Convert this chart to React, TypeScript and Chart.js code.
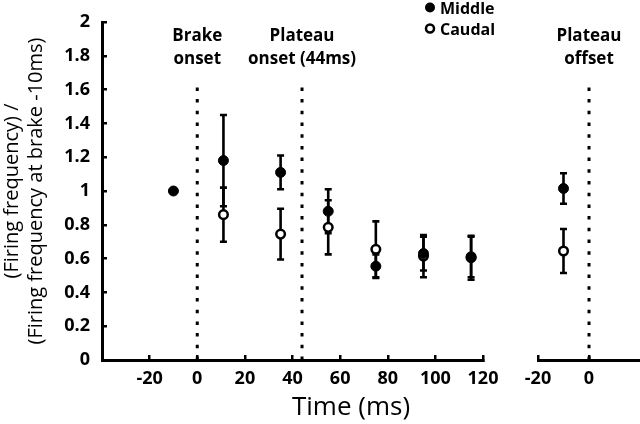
import React, { useEffect, useRef } from "react";
import { Chart, registerables } from "chart.js";

Chart.register(...registerables);

// ---- data ----
const middleTimes = [-10, 11, 35, 55, 75, 95, 115];
const middleValues = [1.0, 1.18, 1.11, 0.88, 0.555, 0.63, 0.605];
const middleErrors = [0, 0.27, 0.1, 0.13, 0.07, 0.1, 0.13];

const caudalTimes = [11, 35, 55, 75, 95, 115];
const caudalValues = [0.86, 0.745, 0.785, 0.655, 0.615, 0.61];
const caudalErrors = [0.16, 0.15, 0.16, 0.165, 0.125, 0.12];

const offsetTimes = [-10];
const middleOffsetValues = [1.015];
const middleOffsetErrors = [0.09];
const caudalOffsetValues = [0.645];
const caudalOffsetErrors = [0.13];

const eventTimes = [0, 44];
const eventLabels = [["Brake", "onset"], ["Plateau", "onset (44ms)"]];
const offsetEventTimes = [0];
const offsetEventLabels = [["Plateau", "offset"]];
const eventLineTop = 1.66;

const mainTicks = [-20, 0, 20, 40, 60, 80, 100, 120];
const offsetTicks = [-20, 0];
const yTicks = [0, 0.2, 0.4, 0.6, 0.8, 1, 1.2, 1.4, 1.6, 1.8, 2];

const seriesNames = ["Middle", "Caudal"];
const xTitle = "Time (ms)";
const yTitle = ["(Firing frequency) /", "(Firing frequency at brake -10ms)"];

const FONT = "'Open Sans', 'Noto Sans', sans-serif";

const toPoints = (xs: number[], ys: number[]) => xs.map((x, i) => ({ x, y: ys[i] }));

const errorBarPlugin = {
  id: "errorBars",
  beforeDatasetsDraw(chart: any) {
    const ctx = chart.ctx;
    const yScale = chart.scales.y;
    ctx.save();
    ctx.strokeStyle = "#000";
    ctx.lineWidth = 2.6;
    chart.data.datasets.forEach((ds: any) => {
      if (!ds.errors) return;
      const xScale = chart.scales[ds.xAxisID];
      ds.data.forEach((p: any, i: number) => {
        const e = ds.errors[i];
        if (!e) return;
        const px = xScale.getPixelForValue(p.x);
        const top = yScale.getPixelForValue(p.y + e);
        const bot = yScale.getPixelForValue(p.y - e);
        ctx.beginPath();
        ctx.moveTo(px, top);
        ctx.lineTo(px, bot);
        ctx.moveTo(px - 3.5, top);
        ctx.lineTo(px + 3.5, top);
        ctx.moveTo(px - 3.5, bot);
        ctx.lineTo(px + 3.5, bot);
        ctx.stroke();
      });
    });
    ctx.restore();
  },
};

const textPlugin = {
  id: "texts",
  afterDraw(chart: any) {
    const ctx = chart.ctx;
    const top = chart.chartArea.top;
    ctx.save();
    ctx.fillStyle = "#000";
    ctx.textAlign = "center";
    ctx.textBaseline = "alphabetic";
    ctx.font = `bold 17px ${FONT}`;
    const drawLabels = (scale: any, times: number[], labels: string[][]) => {
      times.forEach((t, i) => {
        const px = scale.getPixelForValue(t);
        labels[i].forEach((line, j) => {
          ctx.fillText(line, px, top + 19 + j * 23);
        });
      });
    };
    drawLabels(chart.scales.x1, eventTimes, eventLabels);
    drawLabels(chart.scales.x2, offsetEventTimes, offsetEventLabels);

    // legend
    ctx.textAlign = "left";
    ctx.font = `bold 16px ${FONT}`;
    ctx.beginPath();
    ctx.arc(430, 7.5, 5, 0, Math.PI * 2);
    ctx.fillStyle = "#000";
    ctx.fill();
    ctx.fillText(seriesNames[0], 440, 14);
    ctx.beginPath();
    ctx.arc(430, 28.5, 4, 0, Math.PI * 2);
    ctx.fillStyle = "#fff";
    ctx.fill();
    ctx.lineWidth = 2.5;
    ctx.strokeStyle = "#000";
    ctx.stroke();
    ctx.fillStyle = "#000";
    ctx.fillText(seriesNames[1], 440, 35);

    // x title
    ctx.textAlign = "center";
    ctx.textBaseline = "middle";
    ctx.font = `500 26px ${FONT}`;
    ctx.fillText(xTitle, 351, 408);
    ctx.restore();
  },
};

const tickFont = { family: FONT, size: 18, weight: "bold" as const };

const noPad = (s: any) => {
  s.paddingLeft = 0;
  s.paddingRight = 0;
  s.paddingTop = 0;
  s.paddingBottom = 0;
};

const xAxisCommon = (min: number, max: number, ticks: number[], weight: number) => ({
  type: "linear" as const,
  position: "bottom" as const,
  stack: "time",
  stackWeight: weight,
  min,
  max,
  afterBuildTicks: (s: any) => {
    s.ticks = ticks.map((v) => ({ value: v }));
  },
  afterFit: (s: any) => {
    s.height = 64;
    noPad(s);
  },
  border: { display: true, color: "#000", width: 3 },
  grid: { display: true, drawOnChartArea: false, drawTicks: true, tickLength: -5, color: "#000", lineWidth: 2.5 },
  ticks: { color: "#000", padding: 13, font: tickFont, maxRotation: 0, autoSkip: false, callback: (v: any) => String(v) },
});

export default function App() {
  const ref = useRef<HTMLCanvasElement>(null);

  useEffect(() => {
    const dotted = (axis: string, t: number) => ({
      type: "line" as const,
      xAxisID: axis,
      yAxisID: "y",
      data: [
        { x: t, y: 0 },
        { x: t, y: eventLineTop },
      ],
      borderColor: "#000",
      borderWidth: 3,
      borderDash: [3.5, 8.2],
      borderCapStyle: "butt" as const,
      pointRadius: 0,
      fill: false,
    });

    const chart = new Chart(ref.current as HTMLCanvasElement, {
      type: "scatter",
      data: {
        datasets: [
          ...eventTimes.map((t) => dotted("x1", t)),
          ...offsetEventTimes.map((t) => dotted("x2", t)),
          {
            label: seriesNames[0],
            xAxisID: "x1",
            yAxisID: "y",
            data: toPoints(middleTimes, middleValues),
            errors: middleErrors,
            backgroundColor: "#000",
            borderColor: "#000",
            borderWidth: 1,
            pointRadius: 5,
          } as any,
          {
            label: seriesNames[1],
            xAxisID: "x1",
            yAxisID: "y",
            data: toPoints(caudalTimes, caudalValues),
            errors: caudalErrors,
            backgroundColor: "#fff",
            borderColor: "#000",
            borderWidth: 2.5,
            pointRadius: 4.3,
          } as any,
          {
            label: seriesNames[0] + " offset",
            xAxisID: "x2",
            yAxisID: "y",
            data: toPoints(offsetTimes, middleOffsetValues),
            errors: middleOffsetErrors,
            backgroundColor: "#000",
            borderColor: "#000",
            borderWidth: 1,
            pointRadius: 5,
          } as any,
          {
            label: seriesNames[1] + " offset",
            xAxisID: "x2",
            yAxisID: "y",
            data: toPoints(offsetTimes, caudalOffsetValues),
            errors: caudalOffsetErrors,
            backgroundColor: "#fff",
            borderColor: "#000",
            borderWidth: 2.5,
            pointRadius: 4.3,
          } as any,
        ],
      },
      options: {
        responsive: false,
        animation: false,
        devicePixelRatio: 1,
        layout: { autoPadding: false, padding: { top: 22, left: 0, right: 0, bottom: 0 } },
        plugins: { legend: { display: false }, tooltip: { enabled: false } },
        scales: {
          x1: xAxisCommon(-40, 120, mainTicks, 381),
          xGap: {
            type: "linear",
            position: "bottom",
            stack: "time",
            stackWeight: 55,
            min: 0,
            max: 1,
            afterFit: (s: any) => {
              s.height = 64;
              noPad(s);
            },
            border: { display: false },
            grid: { display: false },
            ticks: { display: false },
          },
          x2: xAxisCommon(-20, 20, offsetTicks, 102),
          y: {
            type: "linear",
            position: "left",
            min: 0,
            max: 2,
            afterBuildTicks: (s: any) => {
              s.ticks = yTicks.map((v) => ({ value: v }));
            },
            afterFit: (s: any) => {
              s.width = 102;
              noPad(s);
            },
            border: { display: true, color: "#000", width: 3 },
            grid: { display: true, drawOnChartArea: false, drawTicks: true, tickLength: -5, color: "#000", lineWidth: 2.5 },
            ticks: { color: "#000", padding: 17, font: tickFont, callback: (v: any) => String(v) },
            title: {
              display: true,
              text: yTitle,
              color: "#000",
              font: { family: FONT, size: 20, weight: "500", lineHeight: 1.2 },
              padding: { top: 0, bottom: 0 },
            },
          },
        },
      } as any,
      plugins: [errorBarPlugin, textPlugin],
    });
    return () => chart.destroy();
  }, []);

  return (
    <div style={{ position: "fixed", left: 0, top: 0, width: 640, height: 424, background: "#fff" }}>
      <canvas ref={ref} width={640} height={424} style={{ display: "block", width: 640, height: 424 }} />
    </div>
  );
}
